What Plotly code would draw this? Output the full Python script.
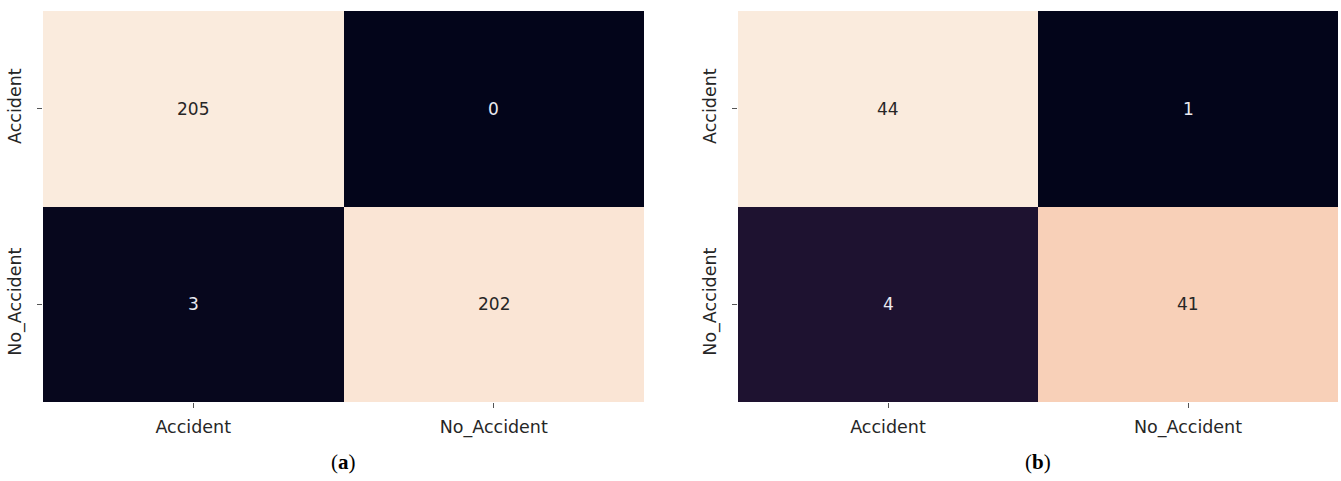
import plotly.graph_objects as go

labels = ["Accident", "No_Accident"]
cm_a = [[205, 0], [3, 202]]
cm_b = [[44, 1], [4, 41]]
subtitles = ["(<b>a</b>)", "(<b>b</b>)"]

# rocket-like colormap stops
rocket = [
    [0.00, "#03051A"], [0.03, "#0B0920"], [0.07, "#1E1230"], [0.10, "#2B1539"],
    [0.20, "#4C1D4B"], [0.30, "#701F57"], [0.40, "#971C5B"], [0.50, "#BD1655"],
    [0.60, "#DD2C45"], [0.70, "#F06043"], [0.80, "#F58860"], [0.88, "#F6B08C"],
    [0.93, "#F8D0B8"], [1.00, "#FAEBDD"],
]

fig = go.Figure()
tickfont = dict(family="DejaVu Sans", size=17.5, color="#262626")

panels = [(cm_a, "x", "y"), (cm_b, "x2", "y2")]
for cm, xa, ya in panels:
    fig.add_trace(go.Heatmap(
        z=cm, x=labels, y=labels, colorscale=rocket, showscale=False,
        xaxis=xa, yaxis=ya, hoverinfo="skip", xgap=0, ygap=0,
    ))
    zmin = min(min(r) for r in cm)
    zmax = max(max(r) for r in cm)
    for i, row in enumerate(cm):
        for j, v in enumerate(row):
            frac = (v - zmin) / (zmax - zmin)
            fig.add_annotation(
                x=labels[j], y=labels[i], xref=xa, yref=ya, text=str(v),
                showarrow=False,
                font=dict(family="DejaVu Sans", size=17,
                          color="#262626" if frac > 0.5 else "#EAEAF0"),
            )

ydom = [(481 - 402) / 481, (481 - 11) / 481]
axis_common = dict(showgrid=False, zeroline=False, ticks="outside", ticklen=5,
                   tickcolor="#555555", tickwidth=1, tickfont=tickfont,
                   showline=False, type="category")
fig.update_layout(
    width=1341, height=481, margin=dict(l=0, r=0, t=0, b=0),
    plot_bgcolor="white", paper_bgcolor="white",
    xaxis=dict(domain=[43 / 1341, 644 / 1341], anchor="y", ticklabelstandoff=4, **axis_common),
    yaxis=dict(domain=ydom, anchor="x", autorange="reversed", tickangle=-90,
               ticklabelstandoff=9, **axis_common),
    xaxis2=dict(domain=[738 / 1341, 1338 / 1341], anchor="y2", ticklabelstandoff=4, **axis_common),
    yaxis2=dict(domain=ydom, anchor="x2", autorange="reversed", tickangle=-90,
                ticklabelstandoff=9, **axis_common),
)

for k, txt in enumerate(subtitles):
    cx = (43 + 644) / 2 / 1341 if k == 0 else (738 + 1338) / 2 / 1341
    fig.add_annotation(x=cx, y=(481 - 462) / 481, xref="paper", yref="paper",
                       xanchor="center", yanchor="middle",
                       text=txt, showarrow=False,
                       font=dict(family="Liberation Serif", size=21, color="black"))

fig.write_html("out.html")
